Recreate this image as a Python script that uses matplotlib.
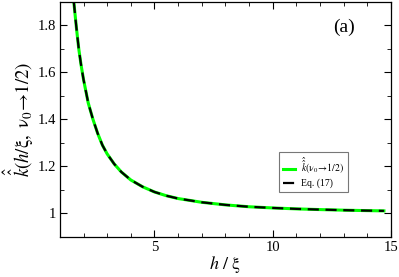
import matplotlib
matplotlib.use("Agg")
import matplotlib.pyplot as plt
from matplotlib.ticker import MultipleLocator

plt.rcParams['font.family'] = ['Liberation Serif', 'DejaVu Serif']
plt.rcParams['mathtext.fontset'] = 'stix'

# values
h = [1.59, 1.7, 1.8, 1.9, 2.0, 2.2, 2.4, 2.6, 2.8, 3.0, 3.3, 3.6, 4.0, 4.5,
     5.0, 5.5, 6.0, 7.0, 8.0, 9.0, 10.0, 11.0, 12.0, 13.0, 14.0, 14.7]
k_num = [1.90, 1.79, 1.70, 1.63, 1.57, 1.47, 1.40, 1.34, 1.29, 1.253, 1.21,
         1.176, 1.142, 1.113, 1.091, 1.075, 1.063, 1.047, 1.036, 1.028, 1.023,
         1.019, 1.016, 1.0135, 1.0116, 1.0105]
k_eq17 = k_num

fig = plt.figure(figsize=(3.99, 2.77), dpi=100)
ax = fig.add_axes([0.150, 0.145, 0.830, 0.848])

ax.plot(h, k_num, color='#00ff00', lw=2.2, label=r'$\hat{\hat{k}}(\mathrm{\nu_0\!\to\!1/2})$')
ax.plot(h, k_eq17, color='black', lw=1.6, dashes=(5, 3), label='Eq. (17)')

ax.set_xlim(1, 15)
ax.set_ylim(0.9, 1.9)
ax.xaxis.set_major_locator(MultipleLocator(5))
ax.xaxis.set_minor_locator(MultipleLocator(1))
ax.yaxis.set_minor_locator(MultipleLocator(0.1))
ax.set_yticks([1.0, 1.2, 1.4, 1.6, 1.8])
ax.set_yticklabels(['1', '1.2', '1.4', '1.6', '1.8'])
ax.tick_params(which='both', direction='in', top=True, right=True, labelsize=10.5, pad=3)
ax.tick_params(which='major', length=5)
ax.tick_params(which='minor', length=3)
for s in ax.spines.values():
    s.set_linewidth(0.9)

ax.set_xlabel(r'$h\ /\ \mathrm{\xi}$', fontsize=13, labelpad=0)
ax.set_ylabel(r'$\hat{\hat{k}}(h/\mathrm{\xi},\ \mathrm{\nu_0}\!\to\!\mathrm{1/2})$', fontsize=13.5, labelpad=1)
ax.text(13.0, 1.79, '(a)', fontsize=14, ha='center', va='center')

leg = ax.legend(loc='upper left', bbox_to_anchor=(0.648, 0.383), fontsize=7,
                frameon=True, fancybox=False, edgecolor='#555555',
                handlelength=1.2, handletextpad=0.6, borderpad=0.4, labelspacing=0.3)
leg.get_frame().set_linewidth(0.8)

fig.savefig('out.png', dpi=100)
